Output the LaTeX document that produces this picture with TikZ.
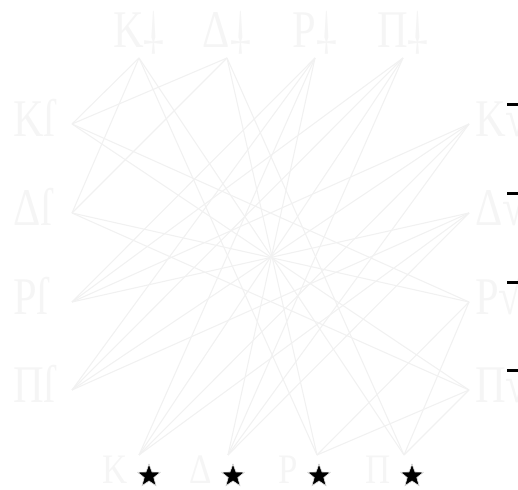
\documentclass[tikz,border=0pt]{standalone}
\usepackage{fontspec}
\setmainfont{Liberation Serif}
\usepackage{graphicx}
\usetikzlibrary{shapes.geometric}
\definecolor{edgec}{RGB}{241,241,241}
\definecolor{labc}{RGB}{245,245,245}
\begin{document}
\begin{tikzpicture}[x=1pt,y=1pt,
  edge/.style={draw=edgec, line width=1.1pt},
  lab/.style={text=labc, inner sep=0pt, font=\fontsize{53}{53}\selectfont},
  blab/.style={text=labc, inner sep=0pt, font=\fontsize{42}{42}\selectfont},
  starmark/.style={star, star points=5, star point ratio=2.4, minimum size=24pt, inner sep=0pt, fill=black, draw=black!12, line width=0.6pt},
  dashmark/.style={draw=black, line width=3pt}]
\useasboundingbox (0,0) rectangle (518,489);
% vertices
\coordinate (T1) at (139,431);
\coordinate (T2) at (227,431);
\coordinate (T3) at (315,431);
\coordinate (T4) at (403,431);
\coordinate (L1) at (72,365);
\coordinate (L2) at (72,276);
\coordinate (L3) at (72,187);
\coordinate (L4) at (72,99);
\coordinate (R1) at (469,365);
\coordinate (R2) at (469,276);
\coordinate (R3) at (469,187);
\coordinate (R4) at (469,99);
\coordinate (B1) at (139,34);
\coordinate (B2) at (228,34);
\coordinate (B3) at (317,34);
\coordinate (B4) at (404,34);
% edges
\foreach \a/\b in {T1/L1,T1/L2,T2/L1,T2/L2,T3/L3,T3/L4,T4/L3,T4/L4,
  L1/R3,L1/R4,L2/R3,L2/R4,L3/R1,L3/R2,L4/R1,L4/R2,
  R1/B1,R1/B2,R2/B1,R2/B2,R3/B3,R3/B4,R4/B3,R4/B4,
  T1/B3,T1/B4,T2/B3,T2/B4,T3/B1,T3/B2,T4/B1,T4/B2}
  \draw[edge] (\a) -- (\b);
% top labels
\node[lab, anchor=base] (lT1) at ([yshift=10pt]T1) {\scalebox{0.8}[1]{K\rotatebox[origin=c]{180}{†}}};
\node[lab, anchor=base] (lT2) at ([yshift=10pt]T2) {\scalebox{0.8}[1]{Δ\rotatebox[origin=c]{180}{†}}};
\node[lab, anchor=base] (lT3) at ([yshift=10pt]T3) {\scalebox{0.8}[1]{P\rotatebox[origin=c]{180}{†}}};
\node[lab, anchor=base] (lT4) at ([yshift=10pt]T4) {\scalebox{0.8}[1]{Π\rotatebox[origin=c]{180}{†}}};
% left labels
\node[lab, anchor=base west] (lL1) at ([shift={(-59,-13)}]L1) {\scalebox{0.8}[1]{Kſ}};
\node[lab, anchor=base west] (lL2) at ([shift={(-59,-13)}]L2) {\scalebox{0.8}[1]{Δſ}};
\node[lab, anchor=base west] (lL3) at ([shift={(-59,-13)}]L3) {\scalebox{0.8}[1]{Pſ}};
\node[lab, anchor=base west] (lL4) at ([shift={(-59,-13)}]L4) {\scalebox{0.8}[1]{Πſ}};
% right labels (cut by the right edge, as in the reference)
\node[lab, anchor=base west] (lR1) at ([shift={(6,-13)}]R1) {\scalebox{0.8}[1]{K√}};
\node[lab, anchor=base west] (lR2) at ([shift={(6,-13)}]R2) {\scalebox{0.8}[1]{Δ√}};
\node[lab, anchor=base west] (lR3) at ([shift={(6,-13)}]R3) {\scalebox{0.8}[1]{P√}};
\node[lab, anchor=base west] (lR4) at ([shift={(6,-13)}]R4) {\scalebox{0.8}[1]{Π√}};
\foreach \v in {R1,R2,R3,R4}
  \draw[dashmark] ([shift={(38,19)}]\v) -- ([shift={(60,19)}]\v);
% bottom labels
\node[starmark] (sB1) at ([shift={(10,-21)}]B1) {};
\node[starmark] (sB2) at ([shift={(5,-21)}]B2) {};
\node[starmark] (sB3) at ([shift={(2,-21)}]B3) {};
\node[starmark] (sB4) at ([shift={(8,-21)}]B4) {};
\node[blab, anchor=base east] (lB1) at ([shift={(-21,-7)}]sB1) {\scalebox{0.83}[1]{K}};
\node[blab, anchor=base east] (lB2) at ([shift={(-21,-7)}]sB2) {\scalebox{0.83}[1]{Δ}};
\node[blab, anchor=base east] (lB3) at ([shift={(-21,-7)}]sB3) {\scalebox{0.83}[1]{P}};
\node[blab, anchor=base east] (lB4) at ([shift={(-21,-7)}]sB4) {\scalebox{0.83}[1]{Π}};
\end{tikzpicture}
\end{document}
